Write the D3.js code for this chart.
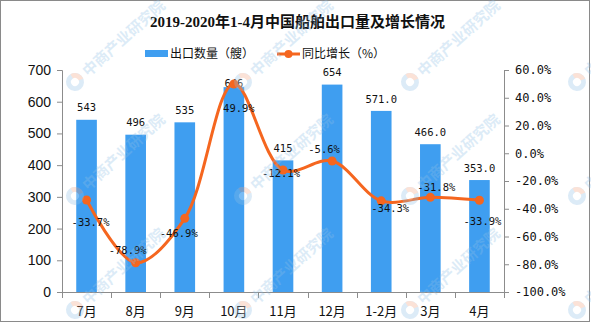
<!DOCTYPE html>
<html><head><meta charset="utf-8">
<script src="https://cdn.jsdelivr.net/npm/d3@7/dist/d3.min.js"></script>
<style>
html,body{margin:0;padding:0;background:#fff;}
svg{display:block;}
</style></head>
<body>
<svg id="chart" width="591" height="323"></svg>
<script>
// ---- data ----
const categories = ["7月","8月","9月","10月","11月","12月","1-2月","3月","4月"];
const exportCount = [543, 496, 535, 646, 415, 654, 571, 466, 353];
const countLabels = ["543","496","535","646","415","654","571.0","466.0","353.0"];
const yoyGrowth = [-33.7, -78.9, -46.9, 49.9, -12.1, -5.6, -34.3, -31.8, -33.9];
const leftTicks = [0,100,200,300,400,500,600,700];
const rightTicks = [-100,-80,-60,-40,-20,0,20,40,60];
const title = "2019-2020年1-4月中国船舶出口量及增长情况";
const legendNames = ["出口数量（艘）","同比增长（%）"];

// ---- style / label placement ----
const growthLabelDx = [4,-8,-6,5,-2,-8,9,6,3];
const growthLabelDy = [22,-12,15,24,3,-12,7,-10,21];
const barLabelDy = [-12,-12,-12,-4,-12,-12,-12,-12,-12];
const BLUE = "#3f9ef0", ORANGE = "#f5661f", AXIS = "#8c8c8c";
const monoFont = "'DejaVu Sans Mono','Liberation Mono',monospace";
const cjkFont = "'Noto Sans CJK SC','DejaVu Sans',sans-serif";

const svg = d3.select("#chart");
const W = 591, H = 323;
const m = {left:62, right:W-504, top:70, bottom:H-292};

// border
svg.append("rect").attr("x",0.5).attr("y",0.5).attr("width",589).attr("height",321)
  .attr("fill","#fff").attr("stroke","#8a8a8a").attr("stroke-width",1);

const x = d3.scaleBand().domain(categories).range([m.left, W-m.right]).paddingInner(0).paddingOuter(0);
const yL = d3.scaleLinear().domain([0,700]).range([H-m.bottom, m.top]);
const yR = d3.scaleLinear().domain([-100,60]).range([H-m.bottom, m.top]);
const barW = x.bandwidth()*0.42;

// bars
svg.append("g").selectAll("rect").data(exportCount).join("rect")
  .attr("x",(d,i)=>x(categories[i])+x.bandwidth()/2-barW/2)
  .attr("y",d=>yL(d)).attr("width",barW).attr("height",d=>yL(0)-yL(d))
  .attr("fill",BLUE);

// left axis
const gL = svg.append("g").attr("transform",`translate(${m.left},0)`)
  .call(d3.axisLeft(yL).tickValues(leftTicks).tickSize(5).tickPadding(6).tickFormat(d3.format("d")));
gL.select(".domain").attr("stroke",AXIS).attr("d",`M-5,${yL(700)+0.5}H0.5V${yL(0)+0.5}`);
gL.selectAll(".tick line").attr("stroke",AXIS);
gL.selectAll("text").attr("font-family","'Liberation Sans',Arial,sans-serif").attr("font-size",14).attr("fill","#111");

// right axis
const gR = svg.append("g").attr("transform",`translate(${W-m.right},0)`)
  .call(d3.axisRight(yR).tickValues(rightTicks).tickSize(5).tickPadding(6).tickFormat(d=>d.toFixed(1)+"%"));
gR.select(".domain").attr("stroke",AXIS).attr("d",`M5,${yR(60)+0.5}H0.5V${yR(-100)+0.5}`);
gR.selectAll(".tick line").attr("stroke",AXIS);
gR.selectAll("text").attr("font-family",monoFont).attr("font-size",12).attr("fill","#111");

// x axis
const gX = svg.append("g").attr("transform",`translate(0,${H-m.bottom})`);
gX.append("line").attr("x1",m.left).attr("x2",W-m.right).attr("y1",0.5).attr("y2",0.5).attr("stroke",AXIS);
const bounds = categories.map(c=>x(c)).concat([W-m.right]);
gX.selectAll("line.tk").data(bounds).join("line").attr("class","tk")
  .attr("x1",d=>Math.round(d)+0.5).attr("x2",d=>Math.round(d)+0.5).attr("y1",0).attr("y2",6).attr("stroke",AXIS);
gX.selectAll("text").data(categories).join("text")
  .attr("x",d=>x(d)+x.bandwidth()/2).attr("y",24)
  .attr("text-anchor","middle").attr("font-family",cjkFont).attr("font-size",13).attr("fill","#111").text(d=>d);

// bar labels
svg.append("g").selectAll("text").data(countLabels).join("text")
  .attr("x",(d,i)=>x(categories[i])+x.bandwidth()/2)
  .attr("y",(d,i)=>yL(exportCount[i])+barLabelDy[i])
  .attr("dy","0.35em").attr("text-anchor","middle")
  .attr("font-family",monoFont).attr("font-size",10.5).attr("fill","#111").text(d=>d);

// line
const cx = (i)=>x(categories[i])+x.bandwidth()/2;
const line = d3.line().x((d,i)=>cx(i)).y(d=>yR(d)).curve(d3.curveCatmullRom.alpha(0.5));
svg.append("path").datum(yoyGrowth).attr("d",line).attr("fill","none")
  .attr("stroke",ORANGE).attr("stroke-width",3).attr("stroke-linejoin","round");
svg.append("g").selectAll("circle").data(yoyGrowth).join("circle")
  .attr("cx",(d,i)=>cx(i)).attr("cy",d=>yR(d)).attr("r",4.5).attr("fill",ORANGE);

// line labels
svg.append("g").selectAll("text").data(yoyGrowth).join("text")
  .attr("x",(d,i)=>cx(i)+growthLabelDx[i]).attr("y",(d,i)=>yR(d)+growthLabelDy[i])
  .attr("dy","0.35em").attr("text-anchor","middle")
  .attr("font-family",monoFont).attr("font-size",10.5).attr("fill","#111")
  .text(d=>d.toFixed(1)+"%");

// title
svg.append("text").attr("x",W/2+2).attr("y",22).attr("dy","0.35em").attr("text-anchor","middle")
  .attr("font-family","'Liberation Serif','Noto Sans CJK SC',serif").attr("font-weight","bold")
  .attr("font-size",15).attr("fill","#111").text(title);

// legend
const lg = svg.append("g");
lg.append("rect").attr("x",145).attr("y",50).attr("width",23).attr("height",7).attr("fill",BLUE);
lg.append("text").attr("x",170).attr("y",54).attr("dy","0.35em").attr("font-family",cjkFont)
  .attr("font-size",12).attr("fill","#111").text(legendNames[0]);
lg.append("line").attr("x1",277).attr("x2",300).attr("y1",54).attr("y2",54).attr("stroke",ORANGE).attr("stroke-width",3);
lg.append("circle").attr("cx",288.5).attr("cy",54).attr("r",4).attr("fill",ORANGE);
lg.append("text").attr("x",302).attr("y",54).attr("dy","0.35em").attr("font-family",cjkFont)
  .attr("font-size",12).attr("fill","#111").text(legendNames[1]);

// watermark
const wmX = [75, 243, 410, 577], wmY = [82, 196, 310];
const wm = svg.append("g").attr("pointer-events","none");
wmX.forEach(px=>wmY.forEach(py=>{
  const g = wm.append("g").attr("transform",`translate(${px},${py}) rotate(-42)`).attr("opacity",0.3);
  g.append("circle").attr("r",9).attr("fill","#8fbfe6");
  g.append("path").attr("d",d3.arc()({innerRadius:0,outerRadius:9,startAngle:0.2,endAngle:1.9})).attr("fill","#f3a07c");
  g.append("circle").attr("r",4).attr("fill","#fff");
  g.append("text").attr("x",13).attr("y",0).attr("dy","0.35em").attr("font-family",cjkFont)
    .attr("font-weight","bold").attr("font-size",15).attr("fill","#8fbfe6").text("中商产业研究院");
}));
</script>
</body></html>
